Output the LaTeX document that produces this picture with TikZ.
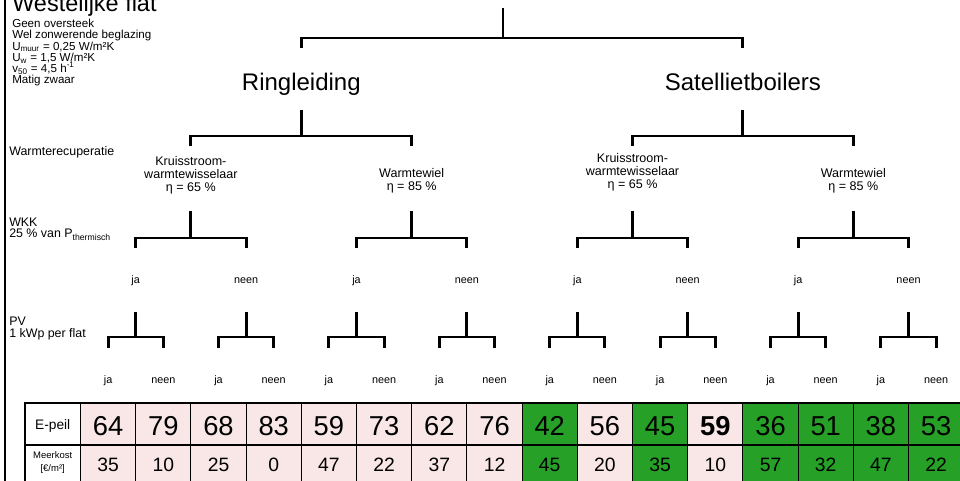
\documentclass[tikz,border=0pt]{standalone}
\usepackage{fontspec}
\setmainfont{Liberation Sans}
\definecolor{cellgreen}{RGB}{38,160,38}
\definecolor{cellpink}{RGB}{249,231,231}
\newcommand\fs[1]{\fontsize{#1}{#1}\selectfont}
\newcommand\mybrk[7]{%
  \coordinate (#1-top) at (#2,#5);
  \coordinate (#1-mid) at (#2,#6);
  \coordinate (#1-l) at (#3,#7);
  \coordinate (#1-r) at (#4,#7);
  \draw[treeline] (#1-l) |- (#1-mid) -| (#1-r);
  \draw[treeline] (#1-mid) -- (#1-top);}
\begin{document}
\begin{tikzpicture}[x=0.75pt,y=-0.75pt,
  treeline/.style={line width=2.2pt,line join=miter,line cap=rect},
  side/.style={anchor=base west,inner sep=0pt,font=\fs{9.3}},
  info/.style={anchor=base west,inner sep=0pt,font=\fs{8.7}},
  lvlone/.style={anchor=base,inner sep=0pt,font=\fs{18}},
  lvltwo/.style={align=center,inner sep=0pt,font=\fontsize{9.4}{9.75}\selectfont},
  yn/.style={anchor=base,inner sep=0pt,font=\fs{8.1}},
  big/.style={anchor=base,inner sep=0pt,font=\fs{20.5}},
  small/.style={anchor=base,inner sep=0pt,font=\fs{14.5}},
  tline/.style={line width=0.8pt}]
\clip (0,0) rectangle (960,481);
\fill[white] (0,0) rectangle (960,481);
% left border
\coordinate (lb-top) at (5,-5);
\coordinate (lb-bot) at (5,490);
\draw[line width=2.2pt] (lb-top) -- (lb-bot);
% title and info
\node[anchor=base west,inner sep=0pt,font=\fs{17.6}] (title) at (12,12) {Westelijke flat};
\node[info] (i1) at (12,28) {Geen oversteek};
\node[info] (i2) at (12,39) {Wel zonwerende beglazing};
\node[info] (i3) at (12,50.5) {U\textsubscript{muur} = 0,25 W/m²K};
\node[info] (i4) at (12,62) {U\textsubscript{w} = 1,5 W/m²K};
\node[info] (i5) at (12,73) {v\textsubscript{50} = 4,5 h\textsuperscript{-1}};
\node[info] (i6) at (12,84) {Matig zwaar};
% side labels
\node[side] (wr) at (9,156) {Warmterecuperatie};
\node[side] (wkk) at (9,226) {WKK};
\node[side] (wkk2) at (9,238) {25 \% van P\textsubscript{thermisch}};
\node[side] (pv) at (9,325) {PV};
\node[side] (pv2) at (9,337) {1 kWp per flat};
% level labels
\node[lvlone] (ring) at (301.3,91) {Ringleiding};
\node[lvlone] (sat) at (742.9,91) {Satellietboilers};
\node[lvltwo] (kr1) at (190.9,175) {Kruisstroom-\\warmtewisselaar\\η = 65 \%};
\node[lvltwo] (ww1) at (411.7,181) {Warmtewiel\\η = 85 \%};
\node[lvltwo] (kr2) at (632.5,172.5) {Kruisstroom-\\warmtewisselaar\\η = 65 \%};
\node[lvltwo] (ww2) at (853.3,180.5) {Warmtewiel\\η = 85 \%};
% brackets
\mybrk{b0}{503}{301.3}{742.9}{9}{38}{47}
\mybrk{b1}{301.3}{190.9}{411.7}{111}{136}{145}
\mybrk{b2}{742.9}{632.5}{853.3}{111}{136}{145}
\foreach \k in {1,...,4}{
  \pgfmathsetmacro\wx{-29.9+220.8*\k}
  \pgfmathsetmacro\wl{\wx-55.2}
  \pgfmathsetmacro\wr{\wx+55.2}
  \mybrk{c\k}{\wx}{\wl}{\wr}{212}{238}{247}
  \node[yn] (wja\k) at (\wl,283) {ja};
  \node[yn] (wne\k) at (\wr,283) {neen};
}
\foreach \j in {1,...,8}{
  \pgfmathsetmacro\px{25.3+110.4*\j}
  \pgfmathsetmacro\pl{\px-27.6}
  \pgfmathsetmacro\pr{\px+27.6}
  \mybrk{d\j}{\px}{\pl}{\pr}{313}{337}{347}
  \node[yn] (lja\j) at (\pl,383) {ja};
  \node[yn] (lne\j) at (\pr,383) {neen};
}
% table
\foreach \i/\a/\b/\c in {1/64/35/cellpink,2/79/10/cellpink,3/68/25/cellpink,4/83/0/cellpink,
  5/59/47/cellpink,6/73/22/cellpink,7/62/37/cellpink,8/76/12/cellpink,
  9/42/45/cellgreen,10/56/20/cellpink,11/45/35/cellgreen,12/{\textbf{59}}/10/cellpink,
  13/36/57/cellgreen,14/51/32/cellgreen,15/38/47/cellgreen,16/53/22/cellgreen}{
  \pgfmathsetmacro\xl{80.5+55.2*(\i-1)}
  \pgfmathsetmacro\xr{80.5+55.2*\i}
  \pgfmathsetmacro\xc{80.5+55.2*(\i-0.5)}
  \fill[\c] (\xl,403) rectangle (\xr,495);
  \node[big] (e\i) at (\xc,435) {\a};
  \node[small] (m\i) at (\xc,471) {\b};
}
\draw[tline] (25,403) rectangle (990,495);
\draw[tline] (25,445) -- (990,445);
\foreach \i in {0,...,16}{
  \pgfmathsetmacro\xb{80.5+55.2*\i}
  \draw[tline] (\xb,403) -- (\xb,495);
}
\node[anchor=base,inner sep=0pt,font=\fs{10.3}] (ep) at (52.7,429) {E-peil};
\node[anchor=base,inner sep=0pt,font=\fs{7.1}] (mk) at (52.7,458) {Meerkost};
\node[anchor=base,inner sep=0pt,font=\fs{7.1}] (mk2) at (52.7,471) {[€/m²]};
\end{tikzpicture}
\end{document}
